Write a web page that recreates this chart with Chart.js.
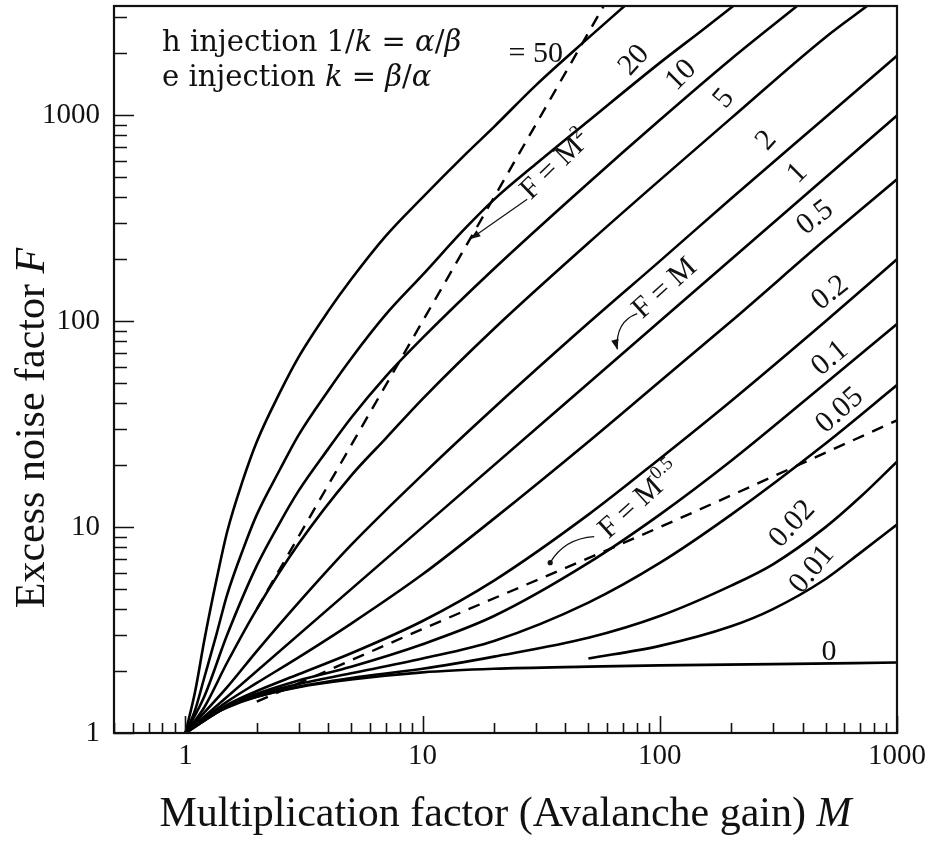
<!DOCTYPE html>
<html>
<head>
<meta charset="utf-8">
<script src="https://cdn.jsdelivr.net/npm/chart.js@4.4.0/dist/chart.umd.min.js"></script>
<style>
  html, body { margin: 0; padding: 0; background: #fff; }
  #wrap { width: 934px; height: 843px; }
</style>
</head>
<body>
<div id="wrap"><canvas id="noise"></canvas></div>
<script>
// Excess noise factor F against avalanche gain M, one curve per ionization ratio k.
// Each curve is a list of [M, F] pairs.
const curveK50 = [[1, 1], [1.1, 1.6], [1.2, 2.8], [1.35, 5.5], [1.5, 9.5], [1.75, 17], [2, 26], [2.5, 45], [3, 67], [4, 112], [5, 160], [7, 260], [10, 400], [15, 640], [20, 880], [30, 1400], [50, 2380], [71, 3400]];
const curveK20 = [[1, 1], [1.1, 1.3], [1.2, 1.85], [1.35, 3], [1.5, 4.7], [1.75, 7.8], [2, 11.5], [2.5, 19], [3, 28], [4, 46], [5, 66], [7, 108], [10, 168], [15, 280], [20, 390], [30, 580], [50, 940], [100, 1800], [150, 2580], [204, 3400]];
const curveK10 = [[1, 1], [1.2, 1.5], [1.5, 3], [2, 6.5], [2.5, 10.5], [3, 15], [4, 24], [5, 34], [7, 54], [10, 83], [20, 180], [50, 470], [100, 950], [200, 1880], [379, 3400]];
const curveK5 = [[1, 1], [1.2, 1.33], [1.5, 2.2], [2, 4], [3, 8.3], [5, 17.8], [7, 27], [10, 42], [20, 92], [50, 240], [100, 485], [200, 970], [500, 2400], [748, 3400]];
const curveK2 = [[1, 1], [1.5, 1.67], [2, 2.5], [3, 4.3], [5, 8.2], [10, 18], [20, 38], [50, 98], [100, 196], [200, 395], [500, 980], [1000, 1950]];
const curveK1 = [[1, 1], [10, 10], [100, 100], [1000, 1000]];
const curveK05 = [[1, 1], [1.5, 1.42], [2, 1.75], [3, 2.33], [5, 3.4], [10, 5.9], [20, 11], [50, 26], [100, 51], [200, 100], [500, 250], [1000, 490]];
const curveK02 = [[1, 1], [1.5, 1.37], [2, 1.6], [3, 1.93], [5, 2.44], [10, 3.5], [20, 5.5], [50, 11.5], [100, 21.5], [200, 41], [500, 100], [1000, 200]];
const curveK01 = [[1, 1], [1.5, 1.35], [2, 1.55], [3, 1.8], [5, 2.1], [10, 2.7], [20, 3.7], [50, 6.7], [100, 11.5], [200, 21], [500, 50], [1000, 97]];
const curveK005 = [[1, 1], [1.5, 1.34], [2, 1.53], [3, 1.73], [5, 1.95], [10, 2.3], [20, 2.8], [50, 4.3], [100, 6.7], [200, 11.5], [500, 25.5], [1000, 49]];
const curveK002 = [[1, 1], [1.5, 1.34], [2, 1.5], [3, 1.68], [5, 1.85], [10, 2.05], [20, 2.35], [50, 2.9], [100, 3.7], [200, 5.2], [300, 6.6], [500, 10], [700, 14], [1000, 20.8]];
const curveK001 = [[50, 2.3], [100, 2.65], [200, 3.3], [300, 4], [500, 5.6], [700, 7.5], [1000, 10.3]];
const curveK0 = [[1, 1], [1.2, 1.17], [1.5, 1.33], [2, 1.5], [3, 1.67], [5, 1.82], [10, 1.97], [20, 2.05], [50, 2.1], [100, 2.13], [300, 2.16], [1000, 2.2]];

// dashed guides F = M^2 and F = M^0.5
const guideSquare = [[2, 4], [5, 25], [10, 100], [20, 400], [58, 3400]];
const guideRoot = [[2, 1.42], [10, 3.2], [100, 10], [1000, 33]];

// curve labels: text and where they sit (M, F, rotation in degrees)
const curveLabelText = ["= 50", "20", "10", "5", "2", "1", "0.5", "0.2", "0.1", "0.05", "0.02", "0.01", "0"];
const curveLabelM = [30, 82.6, 130, 198, 298, 402, 474, 548, 548, 604, 383, 465, 517];
const curveLabelF = [2037, 1950, 1647, 1273, 795, 549, 332, 143, 69, 38.6, 10.9, 6.57, 2.54];
const curveLabelAngle = [0, -48, -45, -50, -48, -45, -38, -38, -40, -42, -47, -50, 0];

// labelled decades on both axes
const xTickLabels = [1, 10, 100, 1000];
const yTickLabels = [1, 10, 100, 1000];

const SERIF = '"Liberation Serif", "Times New Roman", serif';
const MATH = '"DejaVu Serif", serif';

function logTicks(min, max) {
  const out = [];
  for (let e = Math.floor(Math.log10(min)); e <= Math.ceil(Math.log10(max)); e++) {
    for (let m = 1; m <= 9; m++) {
      const v = m * Math.pow(10, e);
      if (v >= min * 0.999 && v <= max * 1.001) out.push(v);
    }
  }
  return out;
}

function isDecade(v) {
  const l = Math.log10(v);
  return Math.abs(l - Math.round(l)) < 1e-9;
}

function toPoints(list) {
  return list.map(([m, f]) => ({ x: m, y: f }));
}

function solid(list) {
  return {
    data: toPoints(list),
    borderColor: '#000',
    borderWidth: 2.6,
    pointRadius: 0,
    cubicInterpolationMode: 'monotone',
    fill: false
  };
}

function dashed(list) {
  return Object.assign(solid(list), { borderDash: [12, 9], borderWidth: 2.4 });
}

// draws a row of text pieces (for italics and superscripts) along a rotated baseline
function drawRuns(ctx, runs, x, y, angleDeg, align) {
  ctx.save();
  ctx.translate(x, y);
  ctx.rotate(angleDeg * Math.PI / 180);
  let total = 0;
  runs.forEach(r => { ctx.font = r.font; r.w = ctx.measureText(r.text).width; total += r.w; });
  let cx = align === 'center' ? -total / 2 : 0;
  ctx.textBaseline = 'alphabetic';
  ctx.textAlign = 'left';
  runs.forEach(r => {
    ctx.font = r.font;
    ctx.fillText(r.text, cx, r.dy || 0);
    cx += r.w;
  });
  ctx.restore();
}

function arrowHead(ctx, tx, ty, fromX, fromY) {
  const ang = Math.atan2(ty - fromY, tx - fromX);
  const len = 10, half = 3.8;
  ctx.beginPath();
  ctx.moveTo(tx, ty);
  ctx.lineTo(tx - len * Math.cos(ang) + half * Math.sin(ang), ty - len * Math.sin(ang) - half * Math.cos(ang));
  ctx.lineTo(tx - len * Math.cos(ang) - half * Math.sin(ang), ty - len * Math.sin(ang) + half * Math.cos(ang));
  ctx.closePath();
  ctx.fill();
}

const overlay = {
  id: 'overlay',
  afterDatasetsDraw(chart) {
    const { ctx, chartArea: a, scales: { x, y } } = chart;
    const px = m => x.getPixelForValue(m);
    const py = f => y.getPixelForValue(f);
    ctx.save();
    ctx.fillStyle = '#111';
    ctx.strokeStyle = '#111';

    // frame
    ctx.lineWidth = 2.2;
    ctx.strokeRect(a.left, a.top, a.right - a.left, a.bottom - a.top);

    // inward ticks
    ctx.lineWidth = 1.6;
    ctx.beginPath();
    x.ticks.forEach(t => {
      const xx = Math.round(px(t.value)) + 0.5;
      const len = isDecade(t.value) ? 17 : 10;
      ctx.moveTo(xx, a.bottom);
      ctx.lineTo(xx, a.bottom - len);
    });
    y.ticks.forEach(t => {
      const yy = Math.round(py(t.value)) + 0.5;
      const len = isDecade(t.value) ? 20 : 13;
      ctx.moveTo(a.left, yy);
      ctx.lineTo(a.left + len, yy);
    });
    ctx.stroke();

    // axis titles
    const big = '42px ' + SERIF, bigIt = 'italic 42px ' + SERIF;
    drawRuns(ctx, [{ text: 'Multiplication factor (Avalanche gain) ', font: big }, { text: 'M', font: bigIt }],
      (a.left + a.right) / 2, 826, 0, 'center');
    drawRuns(ctx, [{ text: 'Excess noise factor ', font: big }, { text: 'F', font: bigIt }],
      44, 428, -90, 'center');

    // injection note
    const fm = '29px ' + MATH, im = 'italic 29px ' + MATH;
    drawRuns(ctx, [
      { text: 'h injection 1/', font: fm }, { text: 'k', font: im },
      { text: ' = ', font: fm }, { text: 'α', font: im }, { text: '/', font: fm }, { text: 'β', font: im }
    ], a.left + 48, a.top + 45, 0, 'left');
    drawRuns(ctx, [
      { text: 'e injection ', font: fm }, { text: 'k', font: im },
      { text: ' = ', font: fm }, { text: 'β', font: im }, { text: '/', font: fm }, { text: 'α', font: im }
    ], a.left + 48, a.top + 80, 0, 'left');

    // curve labels
    const lab = '30px ' + SERIF;
    curveLabelText.forEach((t, i) => {
      drawRuns(ctx, [{ text: t, font: lab }], px(curveLabelM[i]), py(curveLabelF[i]) + 10,
        curveLabelAngle[i], 'center');
    });

    // guide annotations with arrows
    const ann = '30px ' + SERIF, sup = '19px ' + SERIF;
    drawRuns(ctx, [{ text: 'F = M', font: ann }, { text: '2', font: sup, dy: -12 }],
      px(38.4), py(601) + 10, -44, 'center');
    drawRuns(ctx, [{ text: 'F = M', font: ann }],
      px(110.6), py(151) + 10, -42, 'center');
    drawRuns(ctx, [{ text: 'F = M', font: ann }, { text: '0.5', font: sup, dy: -12 }],
      px(86.8), py(14.1) + 10, -42, 'center');

    ctx.lineWidth = 1.2;
    // F = M^2 : straight arrow
    let sx = px(27.6), sy = py(392), tx = px(15.9), ty = py(251);
    ctx.beginPath(); ctx.moveTo(sx, sy); ctx.lineTo(tx, ty); ctx.stroke();
    arrowHead(ctx, tx, ty, sx, sy);
    // F = M : curved arrow
    sx = px(80.3); sy = py(109); tx = px(66.2); ty = py(73);
    ctx.beginPath(); ctx.moveTo(sx, sy); ctx.quadraticCurveTo(sx - 22, sy + 8, tx, ty); ctx.stroke();
    arrowHead(ctx, tx, ty, tx - 3, ty - 12);
    // F = M^0.5 : curved arrow ending in a dot
    sx = px(52.9); sy = py(8.99); tx = px(34.5); ty = py(6.72);
    ctx.beginPath(); ctx.moveTo(sx, sy); ctx.quadraticCurveTo(sx - 30, sy + 2, tx, ty); ctx.stroke();
    ctx.beginPath(); ctx.arc(tx, ty, 2.6, 0, Math.PI * 2); ctx.fill();

    ctx.restore();
  }
};

const datasets = [
  curveK50, curveK20, curveK10, curveK5, curveK2, curveK1, curveK05,
  curveK02, curveK01, curveK005, curveK002, curveK001, curveK0
].map(solid).concat([dashed(guideSquare), dashed(guideRoot)]);

new Chart(document.getElementById('noise'), {
  type: 'line',
  data: { datasets },
  options: {
    responsive: true,
    maintainAspectRatio: false,
    devicePixelRatio: 1,
    animation: false,
    layout: { padding: { top: 6, right: 37, left: 0, bottom: 0 } },
    plugins: { legend: { display: false }, tooltip: { enabled: false } },
    scales: {
      x: {
        type: 'logarithmic',
        min: 0.5,
        max: 1000,
        grid: { display: false, drawTicks: false },
        border: { display: false },
        afterBuildTicks: s => { s.ticks = logTicks(s.min, s.max).map(v => ({ value: v })); },
        afterFit: s => { s.height = 110; s.paddingLeft = 0; s.paddingRight = 0; },
        ticks: {
          autoSkip: false,
          maxRotation: 0,
          padding: 6,
          color: '#111',
          font: { family: SERIF, size: 29 },
          callback: v => xTickLabels.includes(v) ? String(v) : ''
        }
      },
      y: {
        type: 'logarithmic',
        min: 1,
        max: 3400,
        grid: { display: false, drawTicks: false },
        border: { display: false },
        afterBuildTicks: s => { s.ticks = logTicks(s.min, s.max).map(v => ({ value: v })); },
        afterFit: s => { s.width = 114; s.paddingTop = 0; s.paddingBottom = 0; },
        ticks: {
          autoSkip: false,
          padding: 14,
          color: '#111',
          font: { family: SERIF, size: 29 },
          callback: v => yTickLabels.includes(v) ? String(v) : ''
        }
      }
    }
  },
  plugins: [overlay]
});
</script>
</body>
</html>
